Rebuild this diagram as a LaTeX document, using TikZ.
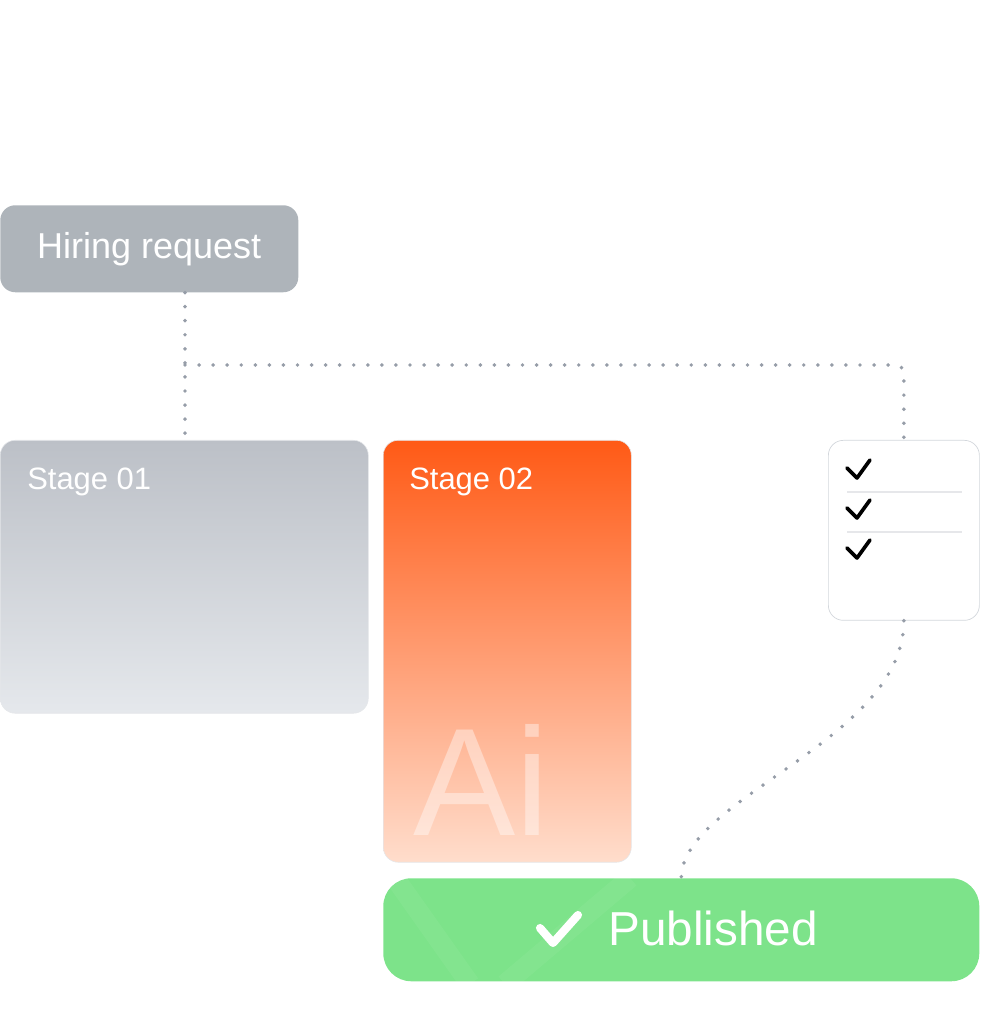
\documentclass[tikz,border=0pt]{standalone}
\usepackage{fontspec}
\setmainfont{Liberation Sans}
\usetikzlibrary{positioning}
\definecolor{hrgrey}{HTML}{AEB4BA}
\definecolor{sonetop}{HTML}{BCC0C7}
\definecolor{sonebot}{HTML}{E5E8EC}
\definecolor{stwotop}{HTML}{FF5A16}
\definecolor{stwobot}{HTML}{FFDDCC}
\definecolor{pubgreen}{HTML}{7DE38A}
\definecolor{dotgrey}{HTML}{969DA8}
\definecolor{chkedge}{HTML}{D3D7DC}
\definecolor{chkrule}{HTML}{E6E7EA}
\newcommand{\pxl}{0.025cm}
\begin{document}
\begin{tikzpicture}[
  x=0.025cm, y=0.025cm,
  box/.style={rounded corners=15*\pxl, inner sep=0pt, anchor=north west},
  hrbox/.style={box, fill=hrgrey, text=white, font=\fontsize{25.6}{30}\selectfont},
  stagebox/.style={box, draw=chkedge!60, line width=0.4pt},
  stagelabel/.style={inner sep=0pt, text=white, font=\fontsize{22}{26}\selectfont},
  ailabel/.style={inner sep=0pt, text=white, text opacity=0.4, font=\fontsize{109}{120}\selectfont},
  chkbox/.style={box, fill=white, draw=chkedge, line width=0.5pt},
  pubbox/.style={box, rounded corners=28*\pxl, fill=pubgreen},
  pubtext/.style={inner sep=0pt, text=white, font=\fontsize{33.9}{40}\selectfont},
  dotline/.style={dotgrey, line width=2.8pt, line cap=round, dash pattern=on 0pt off 10pt},
  tick/.style={black, line width=2.6pt, line cap=round, line join=round},
  pubtick/.style={white, line width=5.8pt, line cap=round, line join=round}
]
\useasboundingbox (0,0) rectangle (980,1024);

% boxes
\node[hrbox, minimum width=298*\pxl, minimum height=87*\pxl] (hr) at (0,819) {Hiring request};
\node[stagebox, top color=sonetop, bottom color=sonebot, minimum width=368*\pxl, minimum height=273*\pxl] (s1) at (0,584) {};
\node[stagebox, top color=stwotop, bottom color=stwobot, minimum width=248*\pxl, minimum height=422*\pxl] (s2) at (383,584) {};
\node[chkbox, minimum width=151*\pxl, minimum height=180*\pxl] (chk) at (828,584) {};
\node[pubbox, minimum width=596*\pxl, minimum height=103*\pxl] (pub) at (383,146) {};

% labels
\node[stagelabel, anchor=base west] (s1l) at ([shift={(27,-50)}]s1.north west) {Stage 01};
\node[stagelabel, anchor=base west] (s2l) at ([shift={(26,-50)}]s2.north west) {Stage 02};
\node[ailabel, anchor=base west] (ai) at ([shift={(30,27)}]s2.south west) {Ai};

% checklist
\foreach \k in {0,1,2}
  \draw[tick] ([shift={(19,-28-40*\k)}]chk.north west) -- ++(10,-10) -- ++(13,18);
\foreach \k in {0,1}
  \draw[chkrule, line width=2pt] ([shift={(19,-52-40*\k)}]chk.north west) -- ++(115,0);

% published
\begin{scope}
  \clip[rounded corners=28*\pxl] (pub.south west) rectangle (pub.north east);
  \draw[white, opacity=0.05, line width=14pt] (395,146) -- (470,40);
  \draw[white, opacity=0.05, line width=14pt] (505,40) -- (630,146);
\end{scope}
\node[pubtext, anchor=base west] (pubt) at (608,78) {Published};
\draw[pubtick] ([shift={(-68,18)}]pubt.base west) -- ++(13,-15) -- ++(25,28);

% connectors
\coordinate (split) at (185,659);
\draw[dotline] (hr.south -| split) -- (s1.north -| split);
\draw[dotline, rounded corners=6] (split) -- (split -| chk.north) -- (chk.north);
\draw[dotline] (chk.south) .. controls +(0,-120) and +(0,80) .. (pub.north);
\end{tikzpicture}
\end{document}
